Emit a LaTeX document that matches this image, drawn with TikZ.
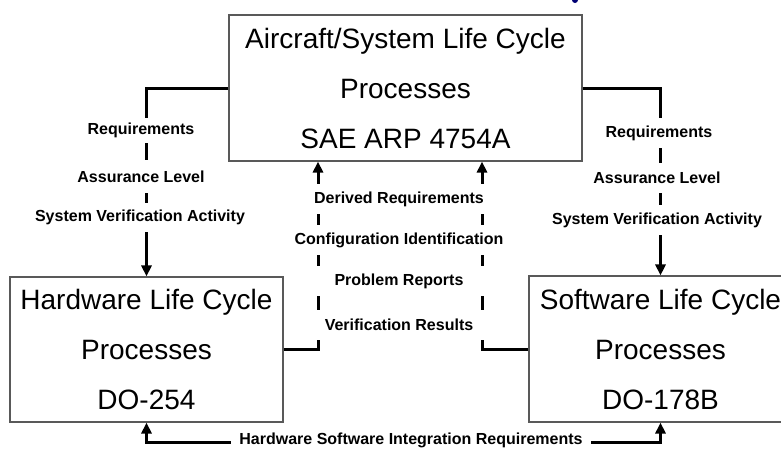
\documentclass[tikz,border=0pt]{standalone}
\usepackage{fontspec}
\setmainfont{Liberation Sans}
\usetikzlibrary{arrows.meta}
\begin{document}
\begin{tikzpicture}[x=1pt,y=-1pt,
  procbox/.style={draw=black!65, line width=1.1pt, fill=white, align=center,
    font=\fontsize{28}{50}\selectfont, inner sep=0pt},
  conn/.style={line width=3pt, line join=miter},
  tip/.style={-{Triangle[width=10pt,length=11pt]}},
  lbl/.style={fill=white, font=\bfseries\fontsize{16}{18}\selectfont, inner xsep=3pt, inner ysep=0pt, minimum height=27pt},
  midlbl/.style={lbl, minimum width=182pt, minimum height=30pt}]
\useasboundingbox (0,0) rectangle (781,451);
\clip (0,0) rectangle (781,451);
% boxes
\node[procbox, minimum width=353pt, minimum height=146pt] (top) at (405.5,88)
  {Aircraft/System Life Cycle\\Processes\\SAE ARP 4754A};
\node[procbox, minimum width=273pt, minimum height=145pt] (hw) at (146.5,349.5)
  {Hardware Life Cycle\\Processes\\DO-254};
\node[procbox, minimum width=263pt, minimum height=146pt] (sw) at (660.5,349)
  {Software Life Cycle\\Processes\\DO-178B};
\coordinate (mL) at (318,0);
\coordinate (mR) at (482,0);
\coordinate (bot) at (400,442);
% connectors
\draw[conn, tip] (top.west) -| (hw.north);
\draw[conn, tip] (top.east) -| (sw.north);
\draw[conn, tip] (hw.east) -| (top.south -| mL);
\draw[conn, tip] (sw.west) -| (top.south -| mR);
\draw[conn, {Triangle[width=10pt,length=11pt]}-{Triangle[width=10pt,length=11pt]}]
  (hw.south) |- (bot) -| (sw.south);
% labels left
\node[lbl, minimum height=25pt] (lr) at (141,130.5) {Requirements};
\node[lbl, minimum height=33pt] (la) at (141,176.5) {Assurance Level};
\node[lbl, minimum height=29pt] (lv) at (140,217.5) {System Verification Activity};
% labels right
\node[lbl, minimum height=30pt] (rr) at (659,133) {Requirements};
\node[lbl, minimum height=30pt] (ra) at (657,178) {Assurance Level};
\node[lbl, minimum height=30pt] (rv) at (657,220) {System Verification Activity};
% labels middle
\node[midlbl] (m1) at (399,199) {Derived Requirements};
\node[midlbl] (m2) at (399,240) {Configuration Identification};
\node[midlbl] (m3) at (399,281) {Problem Reports};
\node[midlbl] (m4) at (399,325) {Verification Results};
% bottom label
\node[lbl, inner xsep=8pt] (bl) at (411,440) {Hardware Software Integration Requirements};
% fragment at top
\fill[blue!45!black] (575,0) circle (3pt);
\end{tikzpicture}
\end{document}
